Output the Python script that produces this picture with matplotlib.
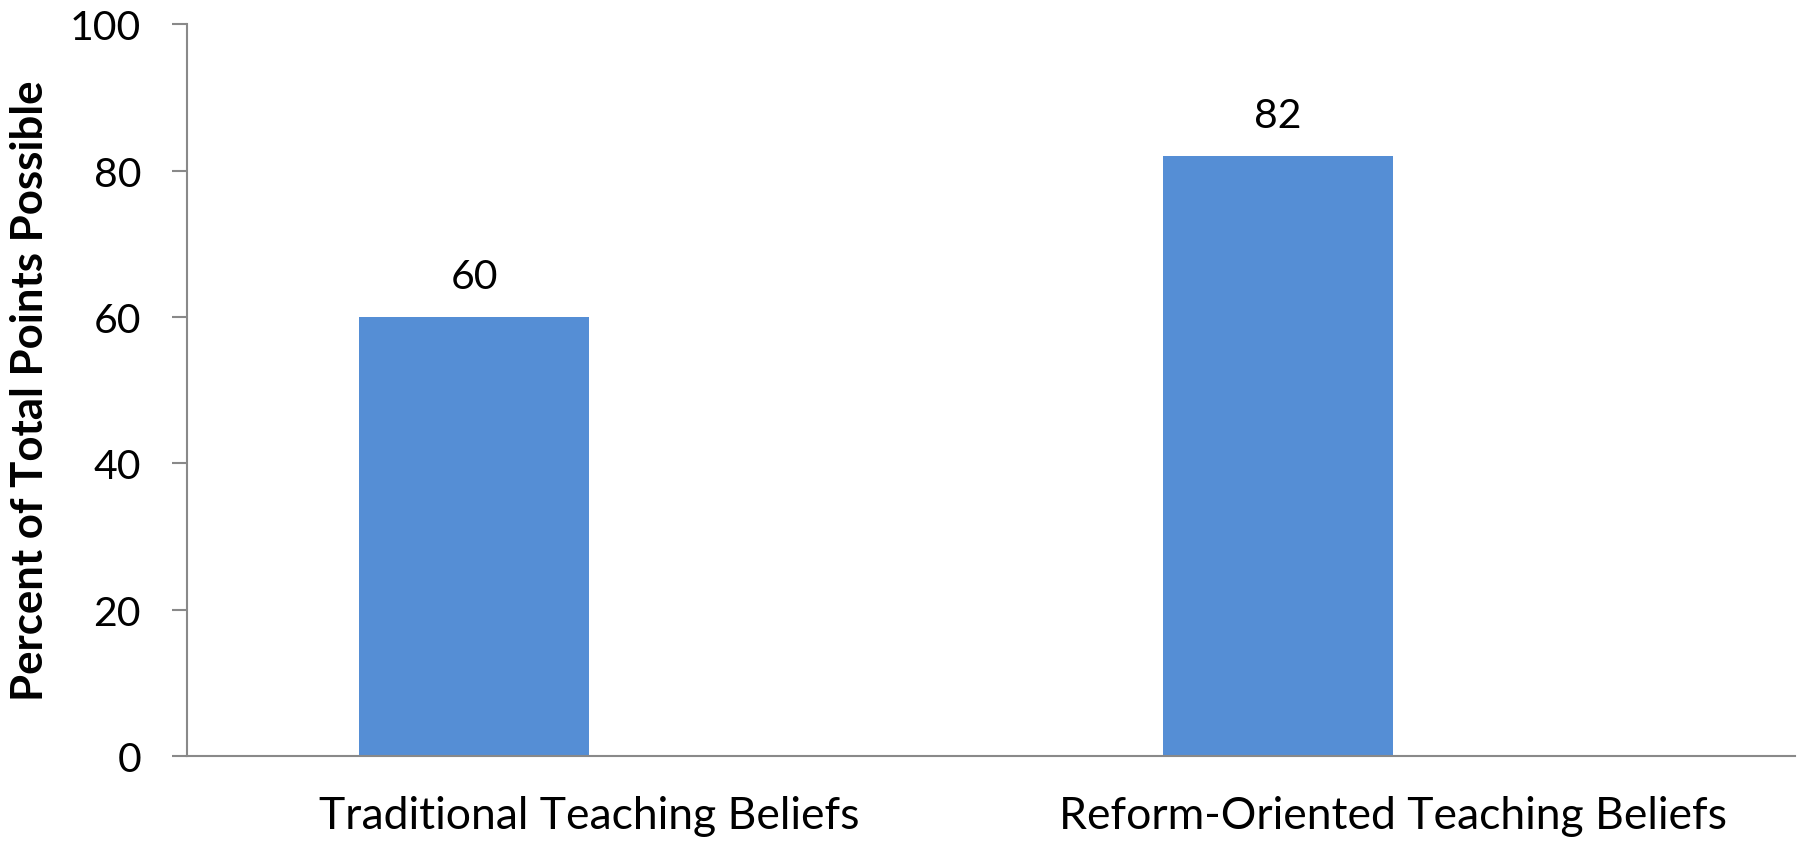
import matplotlib
matplotlib.use("Agg")
import matplotlib.pyplot as plt

categories = ["Traditional Teaching Beliefs", "Reform-Oriented Teaching Beliefs"]
values = [60, 82]
yticks = [0, 20, 40, 60, 80, 100]

BAR_COLOR = "#558ED5"
AXIS_COLOR = "#898989"

plt.rcParams["font.family"] = ["Lato", "DejaVu Sans"]

fig = plt.figure(figsize=(18.01, 8.45), dpi=100)
ax = fig.add_axes([0.1038, 0.104, 0.8929, 0.866])

# Excel-style clustered bar: the bar sits in the left half of its category slot
x = list(range(len(categories)))
bar_w = 2 / 7
bar_x = [i - bar_w / 2 for i in x]
bars = ax.bar(bar_x, values, width=bar_w, color=BAR_COLOR, zorder=2)

for b, v in zip(bars, values):
    ax.annotate(f"{v}", (b.get_x() + b.get_width() / 2, v),
                xytext=(0, 16), textcoords="offset points",
                ha="center", va="bottom", fontsize=29.5)

ax.set_xlim(-0.5, len(categories) - 0.5)
ax.set_ylim(0, 100)
ax.set_yticks(yticks)
ax.set_xticks(x)
ax.set_xticklabels(categories)
ax.tick_params(axis="y", length=11, width=1.5, color=AXIS_COLOR, labelsize=29.5, pad=22)
ax.tick_params(axis="x", length=0, labelsize=32, pad=28)

for side in ["top", "right"]:
    ax.spines[side].set_visible(False)
for side in ["left", "bottom"]:
    ax.spines[side].set_color(AXIS_COLOR)
    ax.spines[side].set_linewidth(1.5)

ax.set_ylabel("Percent of Total Points Possible", fontsize=31.5, fontweight="bold", labelpad=14)

fig.savefig("out.png", dpi=100)
